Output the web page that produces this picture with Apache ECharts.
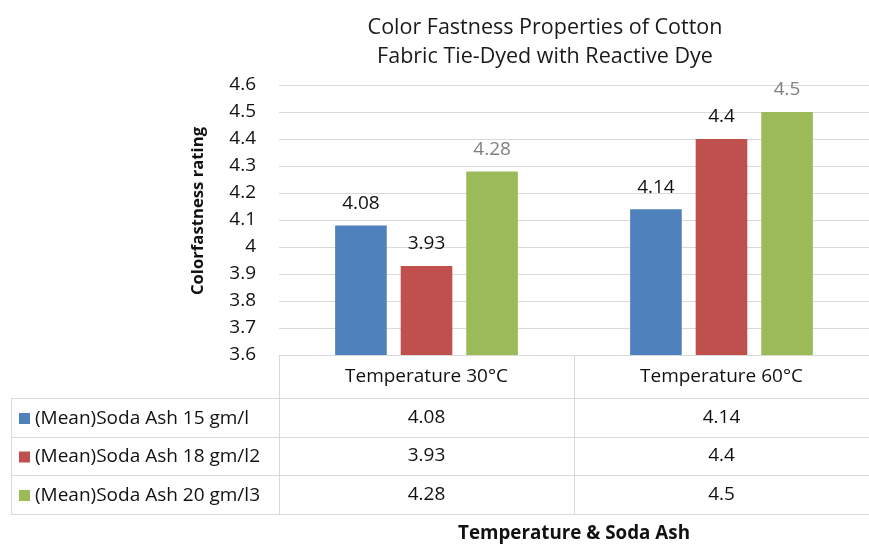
<!DOCTYPE html>
<html>
<head>
<meta charset="utf-8">
<script src="https://cdn.jsdelivr.net/npm/echarts@6/dist/echarts.min.js"></script>
<style>
  html, body { margin: 0; padding: 0; background: #ffffff; }
  #chart { width: 869px; height: 544px; }
</style>
</head>
<body>
<div id="chart"></div>
<script>
// Mean colour-fastness ratings per dyeing temperature and soda-ash dose
const categories = ['Temperature 30°C', 'Temperature 60°C'];
const seriesNames = ['(Mean)Soda Ash 15 gm/l', '(Mean)Soda Ash 18 gm/l2', '(Mean)Soda Ash 20 gm/l3'];
const soda15 = [4.08, 4.14];
const soda18 = [3.93, 4.4];
const soda20 = [4.28, 4.5];
const yMin = 3.6, yMax = 4.6, yStep = 0.1;

const seriesValues = [soda15, soda18, soda20];
const colors = ['#4f81bd', '#c0504d', '#9bbb59'];
const labelColors = ['#111111', '#111111', '#808080'];
const FONT = '"Open Sans", "Noto Sans", sans-serif';
const FS = 19;
const GRID_COLOR = '#d9d9d9';

const chart = echarts.init(document.getElementById('chart'), null, { renderer: 'canvas' });

const option = {
  backgroundColor: '#ffffff',
  animation: false,
  textStyle: { fontFamily: FONT },
  title: {
    text: 'Color Fastness Properties of Cotton\nFabric Tie-Dyed with Reactive Dye',
    left: 540,
    top: 8,
    textAlign: 'center',
    textStyle: { fontFamily: FONT, fontSize: 21.5, fontWeight: 'normal', color: '#1a1a1a', lineHeight: 29 }
  },
  legend: {
    orient: 'vertical',
    left: 19,
    top: 407.5,
    padding: 0,
    itemWidth: 11,
    itemHeight: 11,
    itemGap: 16.5,
    icon: 'rect',
    selectedMode: false,
    data: seriesNames,
    textStyle: { fontFamily: FONT, fontSize: FS, color: '#111111', lineHeight: 22 }
  },
  grid: { left: 279, top: 85, width: 598, height: 271.5, containLabel: false },
  xAxis: {
    type: 'category',
    data: categories,
    name: 'Temperature & Soda Ash',
    nameLocation: 'middle',
    nameGap: 169,
    nameTextStyle: { fontFamily: FONT, fontSize: 18.8, fontWeight: 'bold', color: '#111111' },
    axisLine: { lineStyle: { color: GRID_COLOR, width: 1 } },
    axisTick: { show: false },
    axisLabel: { fontFamily: FONT, fontSize: FS, color: '#111111', margin: 12.5 }
  },
  yAxis: {
    type: 'value',
    min: yMin,
    max: yMax,
    interval: yStep,
    name: 'Colorfastness rating',
    nameLocation: 'middle',
    nameRotate: 90,
    nameGap: 72,
    nameTextStyle: { fontFamily: FONT, fontSize: 16.7, fontWeight: 'bold', color: '#111111', padding: [0, 0, 0, 18] },
    axisLine: { show: false },
    axisTick: { show: false },
    splitLine: { lineStyle: { color: GRID_COLOR, width: 1 } },
    axisLabel: {
      fontFamily: FONT, fontSize: FS, color: '#111111', margin: 23,
      formatter: v => String(Math.round(v * 10) / 10)
    }
  },
  series: seriesNames.map((name, i) => ({
    name: name,
    type: 'bar',
    data: seriesValues[i],
    barWidth: '17.5%',
    barGap: '27%',
    itemStyle: { color: colors[i] },
    label: {
      show: true,
      position: 'top',
      distance: 12.5,
      fontFamily: FONT,
      fontSize: FS,
      color: labelColors[i]
    }
  }))
};

chart.setOption(option);

// Data table under the plot: columns follow the category bands of the x axis
function drawTable() {
  const c0 = chart.convertToPixel({ xAxisIndex: 0 }, 0);
  const c1 = chart.convertToPixel({ xAxisIndex: 0 }, 1);
  const band = c1 - c0;
  const axisY = chart.convertToPixel({ yAxisIndex: 0 }, yMin);
  const colEdges = [c0 - band / 2];
  categories.forEach((_, i) => colEdges.push(c0 + band * i + band / 2));
  const tableLeft = 11;
  const headerH = 43, rowH = 38.5;
  const rowTops = seriesNames.map((_, i) => axisY + headerH + rowH * i);
  const tableBottom = axisY + headerH + rowH * seriesNames.length;
  const lineStyle = { stroke: GRID_COLOR, lineWidth: 1 };
  const px = v => Math.round(v) + 0.5;
  const elements = [];

  // horizontal rules
  rowTops.concat([tableBottom]).forEach(y => {
    elements.push({ type: 'line', shape: { x1: tableLeft, y1: px(y), x2: colEdges[colEdges.length - 1], y2: px(y) }, style: lineStyle, silent: true });
  });
  // vertical rules
  elements.push({ type: 'line', shape: { x1: px(tableLeft), y1: px(rowTops[0]), x2: px(tableLeft), y2: px(tableBottom) }, style: lineStyle, silent: true });
  colEdges.forEach(x => {
    elements.push({ type: 'line', shape: { x1: px(x), y1: px(axisY), x2: px(x), y2: px(tableBottom) }, style: lineStyle, silent: true });
  });
  // cell values
  seriesValues.forEach((vals, r) => {
    vals.forEach((v, c) => {
      elements.push({
        type: 'text',
        x: c0 + band * c,
        y: rowTops[r] + rowH / 2,
        silent: true,
        style: {
          text: String(v),
          fontFamily: FONT, fontSize: FS, fill: '#111111',
          textAlign: 'center', textVerticalAlign: 'middle'
        }
      });
    });
  });
  chart.setOption({ graphic: { elements: elements } });
}
drawTable();
</script>
</body>
</html>
